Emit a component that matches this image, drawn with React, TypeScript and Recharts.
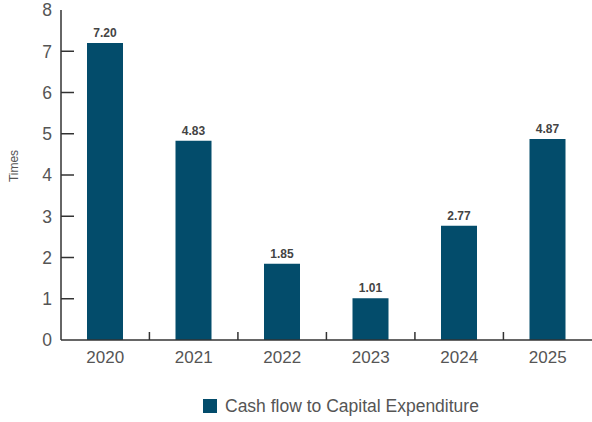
import { BarChart, Bar, XAxis, YAxis, LabelList, Legend } from 'recharts'

const years = ['2020', '2021', '2022', '2023', '2024', '2025']
const ratios = [7.2, 4.83, 1.85, 1.01, 2.77, 4.87]
const yTicks = [0, 1, 2, 3, 4, 5, 6, 7, 8]
const seriesName = 'Cash flow to Capital Expenditure'

const data = years.map((year, i) => ({ year, ratio: ratios[i] }))

const FONT = '"Liberation Sans", Arial, sans-serif'
const BAR = '#034c6b'
const AXIS = '#333'
const TEXT = '#555'
const BAND = 530 / 6

function YTick({ x, y, payload }: any) {
  const axisX = x + 9
  const v = payload.value
  return (
    <g>
      {v > 0 && v < 8 && <line x1={axisX} x2={axisX + 13} y1={y} y2={y} stroke={AXIS} strokeWidth={1.5} />}
      <text x={x} y={y} dy="0.36em" textAnchor="end" fontSize={17.5} fill={TEXT} fontFamily={FONT}>
        {v}
      </text>
    </g>
  )
}

function XTick({ x, y, payload, index }: any) {
  const axisY = y - 11
  return (
    <g>
      {index < years.length - 1 && (
        <line x1={x + BAND / 2} x2={x + BAND / 2} y1={axisY} y2={axisY - 8} stroke={AXIS} strokeWidth={1.5} />
      )}
      <text x={x} y={y} dy="0.71em" textAnchor="middle" fontSize={17} fill={TEXT} fontFamily={FONT}>
        {payload.value}
      </text>
    </g>
  )
}

function TimesLabel() {
  return (
    <text x={14} y={166} transform="rotate(-90 14 166)" dy="0.36em" textAnchor="middle" fontSize={12} fill={TEXT} fontFamily={FONT}>
      Times
    </text>
  )
}

function LegendBox() {
  return (
    <div style={{ height: 50, position: 'relative', fontFamily: FONT }}>
      <div style={{ position: 'absolute', left: 203, top: 27, display: 'flex', alignItems: 'center' }}>
        <span style={{ width: 14, height: 14, background: BAR, display: 'inline-block', marginRight: 8 }} />
        <span style={{ fontSize: 17.5, color: TEXT, lineHeight: '14px' }}>{seriesName}</span>
      </div>
    </div>
  )
}

export default function App() {
  return (
    <div style={{ position: 'fixed', left: 0, top: 0, width: 592, height: 422, background: '#fff' }}>
      <BarChart width={592} height={422} data={data} margin={{ top: 10, right: 0, left: 0, bottom: 0 }} barSize={36}>
        <XAxis
          dataKey="year"
          height={32}
          tickSize={0}
          tickMargin={11}
          tickLine={false}
          axisLine={{ stroke: AXIS, strokeWidth: 1.5 }}
          tick={<XTick />}
        />
        <YAxis
          width={61}
          domain={[0, 8]}
          ticks={yTicks}
          interval={0}
          tickSize={0}
          tickMargin={9}
          tickLine={false}
          axisLine={{ stroke: AXIS, strokeWidth: 1.5 }}
          tick={<YTick />}
          label={{ value: 'Times', content: <TimesLabel /> }}
        />
        <Legend verticalAlign="bottom" content={<LegendBox />} />
        <Bar dataKey="ratio" name={seriesName} fill={BAR} isAnimationActive={false}>
          <LabelList
            dataKey="ratio"
            position="top"
            offset={6}
            formatter={(v: any) => Number(v).toFixed(2)}
            style={{ fontSize: 12, fontWeight: 700, fill: '#444', fontFamily: FONT }}
          />
        </Bar>
      </BarChart>
    </div>
  )
}
